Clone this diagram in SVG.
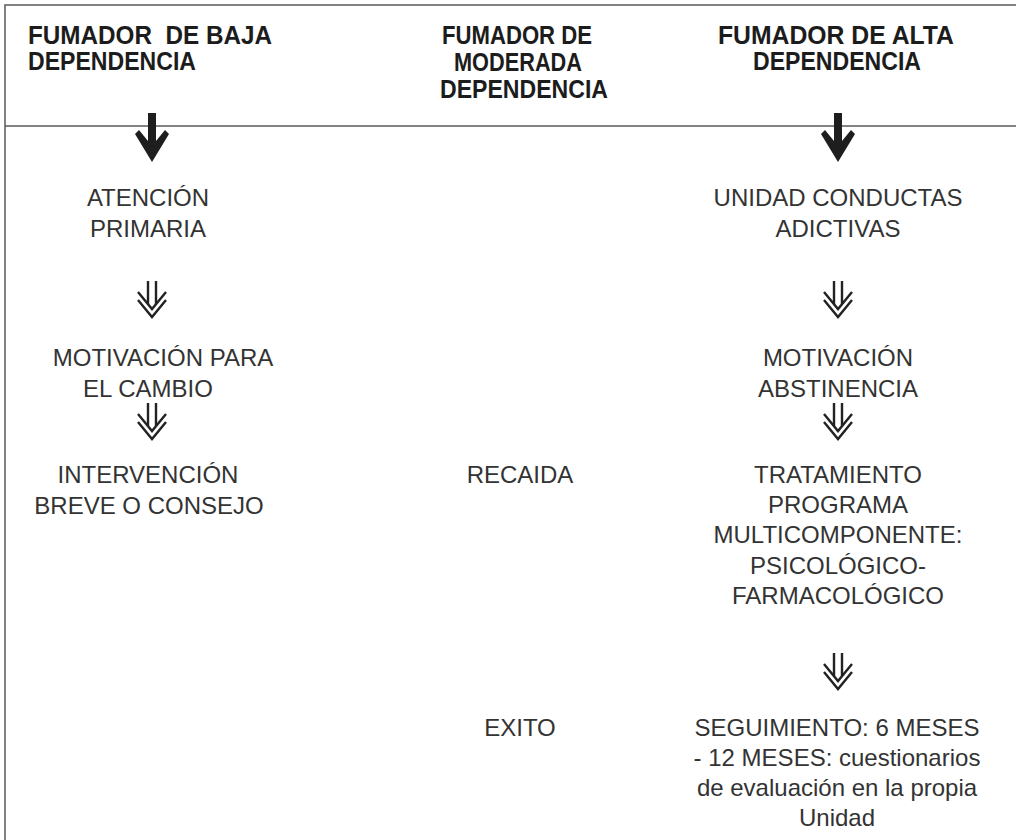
<svg xmlns="http://www.w3.org/2000/svg" width="1016" height="840" viewBox="0 0 1016 840">
<style>
.frame{stroke:#5a5a5a;stroke-width:1.5;fill:none}
.hd{font-family:"Liberation Sans",Arial,sans-serif;font-weight:bold;font-size:25px;fill:#1c1c1c}
.tx{font-family:"Liberation Sans",Arial,sans-serif;font-size:24px;fill:#333;text-anchor:middle}
.dbl{stroke:#222;stroke-width:2.4;fill:none;stroke-linejoin:miter}
</style>
<defs>
<g id="bold">
<polygon points="-4,-49 4,-49 4,-21 13,-32 17,-28 0,0 -17,-28 -13,-32 -4,-21" fill="#1e1e1e"/>
</g>
<g id="dbl2" class="dbl">
<path d="M-4,-36 V-13 M4,-36 V-13"/>
<path d="M-14,-25 L0,-8 L14,-25"/>
<path d="M-14,-17 L0,0 L14,-17"/>
</g>
</defs>
<g id="frame">
<path class="frame" d="M5,840 V5 H1016"/>
<path class="frame" d="M5,126 H1016"/>
</g>
<g id="header-baja">
<text class="hd" x="28" y="44" xml:space="preserve" textLength="244" lengthAdjust="spacingAndGlyphs">FUMADOR  DE BAJA</text>
<text class="hd" x="28" y="70" textLength="168" lengthAdjust="spacingAndGlyphs">DEPENDENCIA</text>
</g>
<g id="header-moderada">
<text class="hd" x="442" y="44" textLength="150" lengthAdjust="spacingAndGlyphs">FUMADOR DE</text>
<text class="hd" x="454" y="71" textLength="128" lengthAdjust="spacingAndGlyphs">MODERADA</text>
<text class="hd" x="440" y="98" textLength="168" lengthAdjust="spacingAndGlyphs">DEPENDENCIA</text>
</g>
<g id="header-alta">
<text class="hd" x="718" y="44" textLength="236" lengthAdjust="spacingAndGlyphs">FUMADOR DE ALTA</text>
<text class="hd" x="753" y="70" textLength="168" lengthAdjust="spacingAndGlyphs">DEPENDENCIA</text>
</g>
<g id="connectors">
<use href="#bold" x="152" y="162"/>
<use href="#bold" x="838" y="162"/>
<use href="#dbl2" x="152" y="317"/>
<use href="#dbl2" x="152" y="439"/>
<use href="#dbl2" x="838" y="317"/>
<use href="#dbl2" x="838" y="439"/>
<use href="#dbl2" x="838" y="689"/>
</g>
<g id="atencion-primaria">
<text class="tx" x="148" y="206">ATENCIÓN</text>
<text class="tx" x="148" y="237">PRIMARIA</text>
</g>
<g id="motivacion-cambio">
<text class="tx" x="163" y="366">MOTIVACIÓN PARA</text>
<text class="tx" x="148" y="397">EL CAMBIO</text>
</g>
<g id="intervencion">
<text class="tx" x="148" y="483">INTERVENCIÓN</text>
<text class="tx" x="149" y="514">BREVE O CONSEJO</text>
</g>
<g id="unidad">
<text class="tx" x="838" y="206">UNIDAD CONDUCTAS</text>
<text class="tx" x="838" y="237">ADICTIVAS</text>
</g>
<g id="motivacion-abstinencia">
<text class="tx" x="838" y="366">MOTIVACIÓN</text>
<text class="tx" x="838" y="397">ABSTINENCIA</text>
</g>
<g id="tratamiento">
<text class="tx" x="838" y="483">TRATAMIENTO</text>
<text class="tx" x="838" y="513">PROGRAMA</text>
<text class="tx" x="838" y="543">MULTICOMPONENTE:</text>
<text class="tx" x="838" y="574">PSICOLÓGICO-</text>
<text class="tx" x="838" y="604">FARMACOLÓGICO</text>
</g>
<g id="recaida">
<text class="tx" x="520" y="483">RECAIDA</text>
</g>
<g id="exito">
<text class="tx" x="520" y="736">EXITO</text>
</g>
<g id="seguimiento">
<text class="tx" x="837" y="736">SEGUIMIENTO: 6 MESES</text>
<text class="tx" x="837" y="766">- 12 MESES: cuestionarios</text>
<text class="tx" x="837" y="796">de evaluación en la propia</text>
<text class="tx" x="837" y="826">Unidad</text>
</g>
</svg>
